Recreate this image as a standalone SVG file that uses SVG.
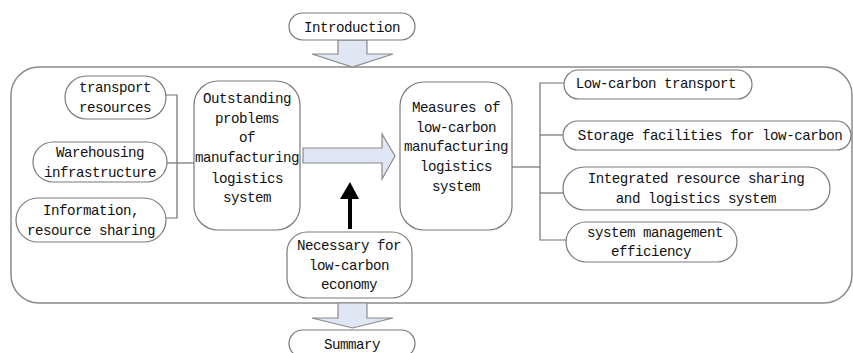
<svg xmlns="http://www.w3.org/2000/svg" width="853" height="353" viewBox="0 0 853 353">
<style>
.box{fill:#fff;stroke:#7a7a7a;stroke-width:1.2}
.outer{fill:none;stroke:#8a8a8a;stroke-width:1.5}
.ln{fill:none;stroke:#707070;stroke-width:1.2}
.harrow{fill:#dfe7f4;stroke:#8a8a8a;stroke-width:1.2}
text{font-family:"Liberation Mono","DejaVu Sans Mono",monospace;font-size:14.2px;letter-spacing:-0.5px;fill:#111;text-anchor:middle}
</style>
<rect width="853" height="353" fill="#fff"/>
<g id="outer-frame"><rect class="outer" x="11" y="67" width="841" height="236" rx="28" ry="28"/></g>
<g id="connectors">
<path class="harrow" d="M338,40 H367 V54 H393 L352.5,67 L312,54 H338 Z"/>
<path class="harrow" d="M338,303 H367 V318 H393 L352.5,328 L312,318 H338 Z"/>
<path class="harrow" d="M303,148 H382 V134 L395,156 L382,179 V163 H303 Z"/>
<path d="M348,229 V199 H340 L350,182 L359,199 H352 V229 Z" fill="#000"/>
<path class="ln" d="M166,95 H177 V218 H166"/>
<path class="ln" d="M167,163 H194"/>
<path class="ln" d="M512,167 H540"/>
<path class="ln" d="M564,83 H540 V240 H566"/>
<path class="ln" d="M540,135 H563"/>
<path class="ln" d="M540,193 H563"/>
</g>
<g id="introduction"><rect class="box" x="289" y="13" width="126" height="27" rx="13.5"/><text x="352" y="32">Introduction</text></g>
<g id="summary"><rect class="box" x="289" y="330" width="126" height="27" rx="13.5"/><text x="352" y="349">Summary</text></g>
<g id="transport-resources"><rect class="box" x="65" y="76" width="101" height="43" rx="21.5"/><text x="115" y="92">transport</text><text x="115" y="112">resources</text></g>
<g id="warehousing"><rect class="box" x="33" y="142" width="134" height="40" rx="20"/><text x="100" y="157">Warehousing</text><text x="100" y="177">infrastructure</text></g>
<g id="information"><rect class="box" x="16" y="198" width="150" height="44" rx="22"/><text x="91" y="215">Information,</text><text x="91" y="235">resource sharing</text></g>
<g id="outstanding"><rect class="box" x="194" y="81" width="106" height="149" rx="24"/><text x="247" y="103">Outstanding</text><text x="247" y="123">problems</text><text x="247" y="142">of</text><text x="247" y="162">manufacturing</text><text x="247" y="183">logistics</text><text x="247" y="202">system</text></g>
<g id="measures"><rect class="box" x="400" y="82" width="112" height="148" rx="24"/><text x="456" y="112">Measures of</text><text x="456" y="132">low-carbon</text><text x="456" y="151">manufacturing</text><text x="456" y="171">logistics</text><text x="456" y="191">system</text></g>
<g id="necessary"><rect class="box" x="287" y="232" width="125" height="66" rx="20"/><text x="349" y="250">Necessary for</text><text x="349" y="270">low-carbon</text><text x="349" y="289">economy</text></g>
<g id="low-carbon-transport"><rect class="box" x="564" y="70" width="188" height="29" rx="14.5"/><text x="656" y="88">Low-carbon transport</text></g>
<g id="storage"><rect class="box" x="563" y="121" width="288" height="29" rx="14.5"/><text x="710" y="140">Storage facilities for low-carbon</text></g>
<g id="integrated"><rect class="box" x="563" y="167" width="267" height="43" rx="21.5"/><text x="696" y="183">Integrated resource sharing</text><text x="696" y="203">and logistics system</text></g>
<g id="system-management"><rect class="box" x="566" y="222" width="171" height="40" rx="20"/><text x="655" y="237">system management</text><text x="651" y="256">efficiency</text></g>
</svg>
